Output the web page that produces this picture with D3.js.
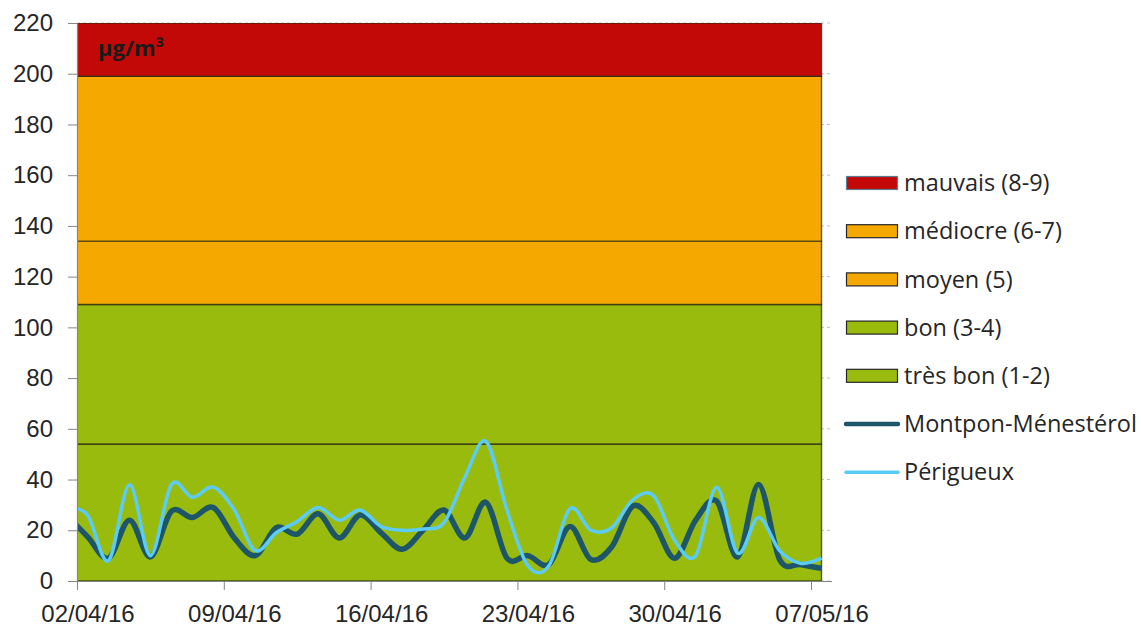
<!DOCTYPE html>
<html>
<head>
<meta charset="utf-8">
<script src="https://cdn.jsdelivr.net/npm/d3@7"></script>
<style>
  body { margin: 0; background: #fff; }
  svg { display: block; font-family: "Open Sans", sans-serif; }
  .tick text { fill: #262626; font-size: 24px; }
  .lgd { fill: #262626; font-size: 23.5px; }
</style>
</head>
<body>
<svg id="chart" width="1141" height="628"></svg>
<script>
// Daily values, plotted at noon; 01/04 only feeds the curve at the left edge
const days = [
  '01/04/16','02/04/16','03/04/16','04/04/16','05/04/16','06/04/16','07/04/16','08/04/16',
  '09/04/16','10/04/16','11/04/16','12/04/16','13/04/16','14/04/16','15/04/16','16/04/16',
  '17/04/16','18/04/16','19/04/16','20/04/16','21/04/16','22/04/16','23/04/16','24/04/16',
  '25/04/16','26/04/16','27/04/16','28/04/16','29/04/16','30/04/16','01/05/16','02/05/16',
  '03/05/16','04/05/16','05/05/16','06/05/16','07/05/16'
];
const montpon = [
  26, 17.5, 9, 24, 9.5, 27.5, 25, 29, 17, 10, 21, 18.5, 26.5, 17, 26, 19, 12.5,
  20, 28, 17, 31, 9, 10, 6.5, 21.5, 8.5, 13.5, 29.5, 23, 9, 24, 31.5, 9.5, 38, 8.5, 6.5, 5
];
const perigueux = [
  29, 26, 8, 38, 10, 38, 33, 37, 28, 12, 19, 23.5, 29, 24, 28, 21.5, 20,
  20.5, 23, 41, 55, 28, 6, 6, 28.5, 20, 21, 32, 33.5, 16, 10, 37, 11, 25, 12, 7, 9
];

// Index bands (lower, upper limit in µg/m³)
const bandNames  = ['très bon (1-2)', 'bon (3-4)', 'moyen (5)', 'médiocre (6-7)', 'mauvais (8-9)'];
const bandLimits = [0, 54, 109, 134, 199, 220];
const bandColors = ['#99bb0e', '#99bb0e', '#f5a800', '#f5a800', '#c30808'];

const xTicks = ['02/04/16', '09/04/16', '16/04/16', '23/04/16', '30/04/16', '07/05/16'];
const yTicks = d3.range(0, 221, 20);

const parse = d3.timeParse('%d/%m/%y');
const noon = s => d3.timeHour.offset(parse(s), 12);

const svg = d3.select('#chart');
const L = 77, R = 832, T = 23, B = 581;

const x = d3.scaleTime().domain([parse('02/04/16'), parse('08/05/16')]).range([L, R]);
const y = d3.scaleLinear().domain([0, 220]).range([B, T]);

svg.append('defs').append('clipPath').attr('id', 'plot')
  .append('rect').attr('x', L).attr('y', T).attr('width', R - L).attr('height', B - T);

// Dashed gridlines, only visible in the strip right of the bands
svg.append('g').selectAll('line').data(yTicks).join('line')
  .attr('x1', L).attr('x2', R).attr('y1', d => y(d)).attr('y2', d => y(d))
  .attr('stroke', '#bfbfbf').attr('stroke-dasharray', '3,3');

// Bands
const gBand = svg.append('g').attr('clip-path', 'url(#plot)');
bandNames.forEach((n, i) => {
  const area = d3.area()
    .x(d => x(noon(d)))
    .y0(y(bandLimits[i]))
    .y1(y(bandLimits[i + 1]));
  gBand.append('path').datum(days).attr('d', area)
    .attr('fill', bandColors[i])
    .attr('stroke', '#2b2b10').attr('stroke-opacity', 0.75).attr('stroke-width', 1.4);
});

// Series
const line = vals => d3.line()
  .x((d, i) => x(noon(d)))
  .y((d, i) => y(vals[i]))
  .curve(d3.curveCatmullRom.alpha(0));

const gLine = svg.append('g').attr('clip-path', 'url(#plot)');
gLine.append('path').datum(days).attr('d', line(montpon))
  .attr('fill', 'none').attr('stroke', '#1d5668').attr('stroke-width', 5.5)
  .attr('stroke-linejoin', 'round');
gLine.append('path').datum(days).attr('d', line(perigueux))
  .attr('fill', 'none').attr('stroke', '#5ccbf5').attr('stroke-width', 3.5)
  .attr('stroke-linejoin', 'round');

// Axes
const yAxis = svg.append('g').attr('transform', `translate(${L},0)`)
  .call(d3.axisLeft(y).tickValues(yTicks).tickSize(9).tickPadding(15));
const halfDay = x(noon('02/04/16')) - x(parse('02/04/16'));
const xAxis = svg.append('g').attr('transform', `translate(0,${B})`)
  .call(d3.axisBottom(x).tickValues(xTicks.map(parse)).tickSize(9).tickPadding(15)
    .tickFormat(d3.timeFormat('%d/%m/%y')));
xAxis.selectAll('.tick text').attr('dx', halfDay);
[yAxis, xAxis].forEach(g => {
  g.select('.domain').attr('stroke', '#868686').attr('stroke-width', 1.2);
  g.selectAll('.tick line').attr('stroke', '#868686');
});
xAxis.select('.domain').attr('d', `M${L - 9},0.5H${R}`);
yAxis.select('.domain').attr('d', `M0.5,${T}V${B}`);

// Unit
svg.append('text').attr('x', 98).attr('y', 56)
  .attr('font-size', 22).attr('font-weight', 'bold').attr('fill', '#1a1a1a')
  .text('µg/m³');

// Legend
const lgd = [
  ...bandNames.map((n, i) => ({ n, type: 'rect', c: bandColors[i] })).reverse(),
  { n: 'Montpon-Ménestérol', type: 'line', c: '#1d5668', w: 4.5 },
  { n: 'Périgueux', type: 'line', c: '#5ccbf5', w: 3.5 }
];
const gL = svg.append('g');
lgd.forEach((d, i) => {
  const cy = 183 + i * 48.2;
  if (d.type === 'rect') {
    gL.append('rect').attr('x', 846.5).attr('y', cy - 6.5).attr('width', 51).attr('height', 13)
      .attr('fill', d.c).attr('stroke', i === 0 ? '#5f7f91' : '#262626').attr('stroke-width', 1.2);
  } else {
    gL.append('line').attr('x1', 846).attr('x2', 898).attr('y1', cy).attr('y2', cy)
      .attr('stroke', d.c).attr('stroke-width', d.w).attr('stroke-linecap', 'round');
  }
  gL.append('text').attr('class', 'lgd').attr('x', 904).attr('y', cy).attr('dy', '0.35em').text(d.n);
});
</script>
</body>
</html>
